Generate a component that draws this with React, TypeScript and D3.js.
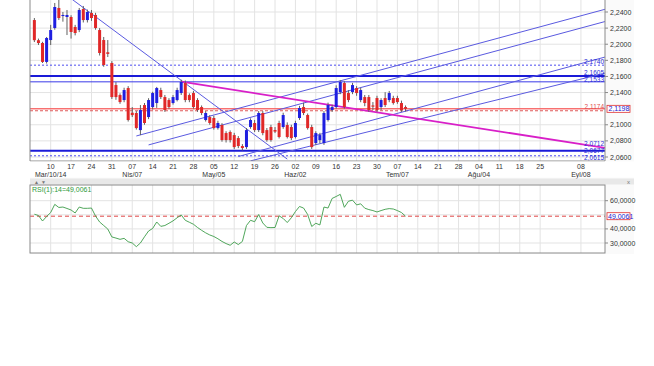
import React from "react";
import * as d3 from "d3";

const dates = [
  "2014-03-04","2014-03-05","2014-03-06","2014-03-07","2014-03-10","2014-03-11","2014-03-12","2014-03-13","2014-03-14",
  "2014-03-17","2014-03-18","2014-03-19","2014-03-20","2014-03-21","2014-03-24","2014-03-25","2014-03-26","2014-03-27","2014-03-28",
  "2014-03-31","2014-04-01","2014-04-02","2014-04-03","2014-04-04","2014-04-07","2014-04-08","2014-04-09","2014-04-10","2014-04-11",
  "2014-04-14","2014-04-15","2014-04-16","2014-04-17","2014-04-18","2014-04-21","2014-04-22","2014-04-23","2014-04-24","2014-04-25",
  "2014-04-28","2014-04-29","2014-04-30","2014-05-01","2014-05-02","2014-05-05","2014-05-06","2014-05-07","2014-05-08","2014-05-09",
  "2014-05-12","2014-05-13","2014-05-14","2014-05-15","2014-05-16","2014-05-19","2014-05-20","2014-05-21","2014-05-22","2014-05-23",
  "2014-05-26","2014-05-27","2014-05-28","2014-05-29","2014-05-30","2014-06-02","2014-06-03","2014-06-04","2014-06-05","2014-06-06",
  "2014-06-09","2014-06-10","2014-06-11","2014-06-12","2014-06-13","2014-06-16","2014-06-17","2014-06-18","2014-06-19","2014-06-20",
  "2014-06-23","2014-06-24","2014-06-25","2014-06-26","2014-06-27","2014-06-30","2014-07-01","2014-07-02","2014-07-03","2014-07-04",
  "2014-07-07","2014-07-08","2014-07-09"
];

const opens = [
  2.230,2.205,2.2015,2.178,2.2052,2.2201,2.245,2.235,2.2338,
  2.2338,2.2214,2.2176,2.2437,2.230,2.2388,2.2363,2.2176,2.2052,2.190,
  2.1767,2.1493,2.1369,2.1307,2.1456,2.115,2.1146,2.0934,2.1245,2.1096,
  2.122,2.127,2.1431,2.1344,2.1307,2.127,2.1307,2.1394,2.1518,2.1369,
  2.1394,2.1307,2.122,2.1059,2.1096,2.1084,2.0959,2.0997,2.0897,2.091,
  2.0872,2.0835,2.0736,2.0723,2.0972,2.1022,2.0934,2.1146,2.0934,2.0972,
  2.0935,2.1022,2.0972,2.0997,2.0972,2.0848,2.1084,2.122,2.1121,2.0972,
  2.0773,2.081,2.0773,2.1059,2.1183,2.122,2.1406,2.1518,2.1394,2.1406,
  2.1456,2.1307,2.1344,2.1344,2.124,2.1332,2.122,2.1332,2.1307,2.1332,
  2.1332,2.127,2.122
];
const highs = [
  2.2325,2.207,2.203,2.209,2.224,2.2512,2.2549,2.240,2.2425,
  2.236,2.224,2.245,2.2475,2.243,2.2425,2.239,2.220,2.209,2.2052,
  2.179,2.153,2.139,2.146,2.148,2.122,2.117,2.1245,2.127,2.133,
  2.141,2.147,2.146,2.137,2.133,2.137,2.146,2.156,2.155,2.139,
  2.142,2.133,2.124,2.117,2.112,2.111,2.105,2.102,2.092,2.093,
  2.090,2.086,2.076,2.096,2.108,2.106,2.117,2.117,2.096,2.100,
  2.0972,2.105,2.115,2.103,2.100,2.105,2.1235,2.1275,2.114,2.100,
  2.092,2.090,2.117,2.1275,2.125,2.149,2.1555,2.154,2.143,2.152,
  2.148,2.146,2.137,2.137,2.1282,2.136,2.133,2.1405,2.142,2.136,
  2.136,2.130,2.124
];
const lows = [
  2.2027,2.199,2.1767,2.176,2.199,2.218,2.230,2.228,2.2114,
  2.207,2.211,2.215,2.227,2.227,2.229,2.218,2.186,2.172,2.1841,
  2.132,2.131,2.126,2.128,2.104,2.1096,2.094,2.0872,2.100,2.107,
  2.119,2.121,2.132,2.116,2.120,2.125,2.129,2.137,2.128,2.128,
  2.120,2.116,2.112,2.104,2.100,2.094,2.094,2.079,2.078,2.078,
  2.070,2.071,2.068,2.070,2.095,2.091,2.091,2.087,2.079,2.079,
  2.0897,2.083,2.095,2.083,2.081,2.083,2.106,2.112,2.094,2.070,
  2.075,2.077,2.075,2.104,2.116,2.120,2.138,2.120,2.128,2.138,
  2.136,2.128,2.123,2.116,2.1183,2.116,2.118,2.122,2.128,2.125,
  2.126,2.116,2.1165
];
const closes = [
  2.205,2.2015,2.178,2.2077,2.2176,2.2462,2.2325,2.2363,2.2363,
  2.2152,2.2139,2.2425,2.230,2.240,2.2325,2.2201,2.1891,2.1742,2.188,
  2.1344,2.1344,2.1282,2.1431,2.1059,2.112,2.0959,2.1183,2.1022,2.1307,
  2.1394,2.1456,2.1344,2.1183,2.122,2.1344,2.1431,2.1531,2.1307,2.1307,
  2.122,2.1183,2.1146,2.1146,2.1022,2.0959,2.1022,2.081,2.081,2.081,
  2.0723,2.0736,2.0711,2.0934,2.1059,2.0934,2.1146,2.0897,2.081,2.081,
  2.0915,2.0848,2.1121,2.0848,2.0835,2.1022,2.1208,2.1146,2.0959,2.0723,
  2.0897,2.0872,2.1146,2.1245,2.122,2.1456,2.1531,2.122,2.1307,2.1493,
  2.1394,2.1431,2.127,2.1183,2.1225,2.1183,2.1307,2.1245,2.1394,2.127,
  2.1282,2.1183,2.1198
];
const rsiValues = [
  50.4,49.5,45.6,48.8,51.6,57.4,55.2,55.5,54.5,53.4,
  51.3,55.5,54.6,54.6,54.8,49.1,44.9,42.4,39.9,34.3,
  33.5,32.6,33.3,30.9,30.0,27.4,30.0,34.4,38.5,40.3,
  44.9,41.8,42.4,44.0,45.7,47.9,49.9,46.1,44.7,43.3,
  41.0,39.0,37.2,35.7,34.6,33.0,31.1,29.6,28.4,30.7,
  28.9,31.1,42.4,46.1,45.1,50.2,44.2,41.1,40.9,41.0,
  49.3,47.4,44.5,47.9,52.3,55.9,54.8,50.2,41.7,44.0,
  42.8,55.5,54.8,61.6,63.0,64.5,55.3,59.6,60.4,57.0,
  57.8,54.7,53.7,53.0,52.0,53.0,53.9,54.4,54.1,53.0,
  51.6,49.0061
];

const weekTicks = [
  "2014-03-10","2014-03-17","2014-03-24","2014-03-31","2014-04-07","2014-04-14","2014-04-21","2014-04-28",
  "2014-05-05","2014-05-12","2014-05-19","2014-05-26","2014-06-02","2014-06-09","2014-06-16","2014-06-23",
  "2014-06-30","2014-07-07","2014-07-14","2014-07-21","2014-07-28","2014-08-04","2014-08-11","2014-08-18",
  "2014-08-25","2014-09-08"
];
const monthTicks = ["2014-03-10","2014-04-07","2014-05-05","2014-06-02","2014-07-07","2014-08-04","2014-09-08"];
const monthLabels = ["Mar/10/14","Nis/07","May/05","Haz/02","Tem/07","Ağu/04","Eyl/08"];
const priceTicks = [2.06,2.08,2.10,2.14,2.16,2.18,2.20,2.22,2.24];
const priceGrid = [2.06,2.08,2.10,2.12,2.14,2.16,2.18,2.20,2.22,2.24];
const rsiTicks = [30,40,60];
const rsiGrid = [30,40,50,60];

const lastPrice = 2.1198;
const lastRsi = 49.0061;
const dashedLevels = [2.174, 2.0615];
const thickLevels = [2.1605, 2.0677];
const thinLevels = [2.1533];
const redDashedLevel = 2.1174;
const levelLabels = [
  { v: 2.174, t: "2,1740", dy: -1 },
  { v: 2.1605, t: "2,1605", dy: -1 },
  { v: 2.1533, t: "2,1533", dy: 0.5 },
  { v: 2.0712, t: "2,0712", dy: -2 },
  { v: 2.0677, t: "2,0677", dy: 2.3 },
  { v: 2.0615, t: "2,0615", dy: 4.6 },
];

const blueLines = [
  { d1: "2014-03-17", p1: 2.2567, d2: "2014-05-29", p2: 2.0574 },
  { d1: "2014-04-08", p1: 2.0861, d2: "2014-09-16", p2: 2.2435 },
  { d1: "2014-04-11", p1: 2.0750, d2: "2014-09-16", p2: 2.2283 },
  { d1: "2014-05-13", p1: 2.0606, d2: "2014-09-16", p2: 2.1842 },
  { d1: "2014-05-16", p1: 2.0552, d2: "2014-09-16", p2: 2.1642 },
];
const magentaLine = { d1: "2014-04-23", p1: 2.1535, d2: "2014-09-16", p2: 2.0712 };

const BASE = Date.parse("2014-03-10");
function tIdx(s: string) {
  const d = Math.round((Date.parse(s) - BASE) / 864e5);
  const w = Math.floor(d / 7);
  const r = d - w * 7;
  return w * 5 + Math.min(r, 5);
}
const fmt = (v: number) => d3.format(".4f")(v).replace(".", ",");

export default function App() {
  const L = 30, R = 605, mainBot = 161, rsiTop = 185, rsiBot = 253, CR = 634;
  const x = d3.scaleLinear().domain([-5.07, 135.9]).range([L, R]);
  const y = d3.scaleLinear().domain([2.06, 2.24]).range([157, 12]);
  const yr = d3.scaleLinear().domain([30, 60]).range([243, 200.7]);
  const font = "'Liberation Sans', Arial, sans-serif";
  const rsiLine = d3.line<number>().x((_, i) => x(tIdx(dates[i]))).y((v) => yr(v));
  const blue = "#5a5ae0";

  return (
    <svg width={654} height={366} style={{ position: "absolute", left: 0, top: 0 }} fontFamily={font}>
      <defs>
        <clipPath id="mainClip"><rect x={L} y={0} width={R - L} height={mainBot} /></clipPath>
        <clipPath id="rsiClip"><rect x={L} y={rsiTop} width={R - L} height={rsiBot - rsiTop} /></clipPath>
      </defs>
      <rect x={0} y={0} width={654} height={366} fill="#ffffff" />
      <rect x={L} y={0} width={CR - L} height={rsiBot + 1} fill="#fafafa" />
      {/* main plot */}
      <rect x={L} y={-1} width={R - L} height={mainBot + 1} fill="#ffffff" />
      {weekTicks.map((d) => (
        <line key={"vg" + d} x1={x(tIdx(d))} x2={x(tIdx(d))} y1={0} y2={mainBot} stroke="#e3e3e3" />
      ))}
      {priceGrid.map((p) => (
        <line key={"hg" + p} x1={L} x2={R} y1={y(p)} y2={y(p)} stroke="#e3e3e3" />
      ))}
      <g clipPath="url(#mainClip)">
        {dashedLevels.map((p) => (
          <line key={"dl" + p} x1={L} x2={R} y1={y(p)} y2={y(p)} stroke="#4c4cf0" strokeDasharray="2,2" />
        ))}
        {thickLevels.map((p) => (
          <line key={"tl" + p} x1={L} x2={R} y1={y(p)} y2={y(p)} stroke="#1a1ad8" strokeWidth={2} />
        ))}
        {thinLevels.map((p) => (
          <line key={"nl" + p} x1={L} x2={R} y1={y(p)} y2={y(p)} stroke="#3a3ae8" />
        ))}
        <line x1={L} x2={R} y1={y(redDashedLevel)} y2={y(redDashedLevel)} stroke="#e05a5a" strokeDasharray="3,2" />
        <line x1={L} x2={R} y1={y(lastPrice)} y2={y(lastPrice)} stroke="#ff3a3a" />
        {blueLines.map((l, i) => (
          <line key={"bl" + i} x1={x(tIdx(l.d1))} y1={y(l.p1)} x2={x(tIdx(l.d2))} y2={y(l.p2)} stroke={blue} />
        ))}
        <line x1={x(tIdx(magentaLine.d1))} y1={y(magentaLine.p1)} x2={x(tIdx(magentaLine.d2))} y2={y(magentaLine.p2)}
          stroke="#d81fc8" strokeWidth={1.8} />
        {dates.map((d, i) => {
          const cx = x(tIdx(d));
          const o = opens[i], c = closes[i];
          const up = c >= o;
          const top = y(Math.max(o, c));
          const h = Math.max(1, Math.abs(y(o) - y(c)));
          return (
            <g key={"c" + d}>
              <line x1={cx} x2={cx} y1={y(highs[i])} y2={y(lows[i])} stroke="#606060" />
              <rect x={cx - 1.5} y={top} width={3} height={h} fill={up ? "#1f1fe0" : "#e02828"} />
            </g>
          );
        })}
        {levelLabels.map((l) => (
          <text key={"ll" + l.t} x={R - 1} y={y(l.v) + l.dy} fontSize={6.5} fill="#2c2cd8" textAnchor="end">{l.t}</text>
        ))}
        <text x={R - 1} y={y(redDashedLevel) - 2} fontSize={6.5} fill="#e05050" textAnchor="end">{fmt(redDashedLevel)}</text>
      </g>
      <line x1={L} x2={L} y1={0} y2={mainBot} stroke="#8a8a8a" />
      <line x1={R} x2={R} y1={0} y2={mainBot} stroke="#8a8a8a" />
      <line x1={L} x2={R} y1={mainBot} y2={mainBot} stroke="#8a8a8a" />
      {priceTicks.map((p) => (
        <g key={"pt" + p}>
          <line x1={R} x2={R + 3} y1={y(p)} y2={y(p)} stroke="#8a8a8a" />
          <text x={R + 5} y={y(p) + 2.5} fontSize={7} fill="#333">{fmt(p)}</text>
        </g>
      ))}
      <rect x={R + 2} y={y(lastPrice) - 3.5} width={23} height={7} fill="#ffffff" stroke="#e03030" strokeWidth={0.8} />
      <text x={R + 3.5} y={y(lastPrice) + 2.5} fontSize={7} fill="#2020d0">{fmt(lastPrice)}</text>
      {/* x axis */}
      <rect x={L} y={mainBot + 0.5} width={CR - L} height={16} fill="#ffffff" />
      {weekTicks.map((d) => (
        <text key={"wt" + d} x={x(tIdx(d))} y={169} fontSize={7} fill="#333" textAnchor="middle">{d.slice(8, 10)}</text>
      ))}
      {monthTicks.map((d, i) => (
        <text key={"mt" + d} x={x(tIdx(d))} y={177} fontSize={7} fill="#333" textAnchor="middle">{monthLabels[i]}</text>
      ))}
      {/* separator */}
      <rect x={L} y={178.5} width={CR - L} height={6} fill="#e8e8e8" />
      <text x={34} y={184} fontSize={5} fill="#777">▲</text>
      <text x={41} y={184} fontSize={5} fill="#777">▼</text>
      <text x={627} y={184} fontSize={6} fill="#777">x</text>
      {/* rsi panel */}
      <rect x={L} y={rsiTop} width={R - L} height={rsiBot - rsiTop} fill="#ffffff" />
      {weekTicks.map((d) => (
        <line key={"rvg" + d} x1={x(tIdx(d))} x2={x(tIdx(d))} y1={rsiTop} y2={rsiBot} stroke="#e3e3e3" />
      ))}
      {rsiGrid.map((v) => (
        <line key={"rhg" + v} x1={L} x2={R} y1={yr(v)} y2={yr(v)} stroke="#e3e3e3" />
      ))}
      <g clipPath="url(#rsiClip)">
        <line x1={L} x2={R} y1={yr(lastRsi)} y2={yr(lastRsi)} stroke="#e04848" strokeDasharray="4,3" />
        <path d={rsiLine(rsiValues) || ""} fill="none" stroke="#3c9c48" strokeWidth={0.9} />
      </g>
      <rect x={L} y={rsiTop} width={R - L} height={rsiBot - rsiTop} fill="none" stroke="#8a8a8a" />
      <text x={L + 2} y={rsiTop + 6.5} fontSize={7} fill="#2e9a3a">RSI(1):14={fmt(lastRsi)}</text>
      {rsiTicks.map((v) => (
        <g key={"rt" + v}>
          <line x1={R} x2={R + 3} y1={yr(v)} y2={yr(v)} stroke="#8a8a8a" />
          <text x={R + 5} y={yr(v) + 2.5} fontSize={7} fill="#333">{fmt(v)}</text>
        </g>
      ))}
      <rect x={R + 2} y={yr(lastRsi) - 3.5} width={23} height={7} fill="#ffffff" stroke="#e03030" strokeWidth={0.8} />
      <text x={R + 3} y={yr(lastRsi) + 2.5} fontSize={7} fill="#2020d0">{fmt(lastRsi)}</text>
    </svg>
  );
}
